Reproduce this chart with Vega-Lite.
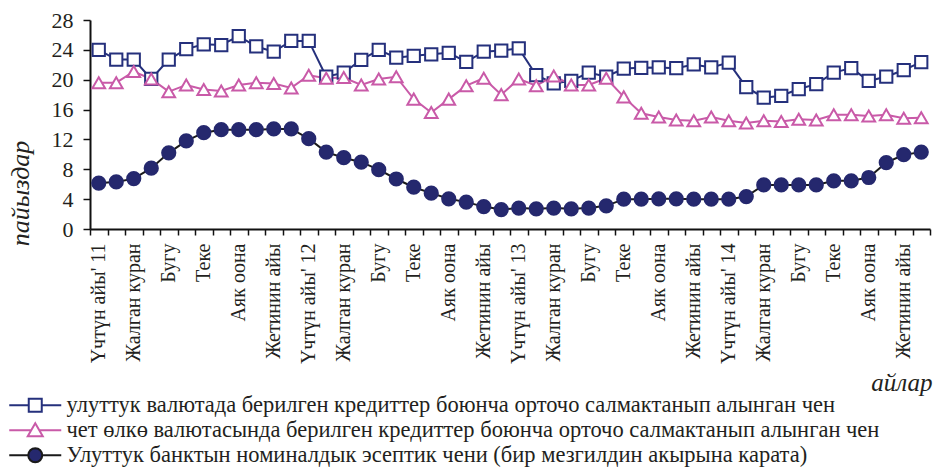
{
  "$schema": "https://vega.github.io/schema/vega-lite/v6.json",
  "width": 840,
  "height": 209,
  "autosize": {"type": "none"},
  "padding": {"left": 90, "top": 20, "right": 3, "bottom": 242},
  "background": "white",
  "config": {
    "font": "Liberation Serif",
    "view": {"stroke": null},
    "axis": {"domainColor": "#111111", "domainWidth": 2, "tickColor": "#111111", "tickWidth": 1.5, "labelColor": "#231f20", "titleColor": "#231f20", "labelFont": "Liberation Serif", "titleFont": "Liberation Serif"}
  },
  "data": {
    "values": [
      {"d": "2011-01", "n": 24.0, "f": 19.6, "r": 6.15},
      {"d": "2011-02", "n": 22.7, "f": 19.6, "r": 6.3},
      {"d": "2011-03", "n": 22.7, "f": 21.1, "r": 6.75},
      {"d": "2011-04", "n": 20.1, "f": 20.1, "r": 8.15},
      {"d": "2011-05", "n": 22.7, "f": 18.4, "r": 10.2},
      {"d": "2011-06", "n": 24.1, "f": 19.3, "r": 11.8},
      {"d": "2011-07", "n": 24.75, "f": 18.7, "r": 12.9},
      {"d": "2011-08", "n": 24.65, "f": 18.5, "r": 13.3},
      {"d": "2011-09", "n": 25.85, "f": 19.3, "r": 13.3},
      {"d": "2011-10", "n": 24.45, "f": 19.6, "r": 13.3},
      {"d": "2011-11", "n": 23.75, "f": 19.5, "r": 13.4},
      {"d": "2011-12", "n": 25.2, "f": 18.9, "r": 13.4},
      {"d": "2012-01", "n": 25.2, "f": 20.6, "r": 12.1},
      {"d": "2012-02", "n": 20.4, "f": 20.2, "r": 10.3},
      {"d": "2012-03", "n": 20.95, "f": 20.3, "r": 9.55},
      {"d": "2012-04", "n": 22.65, "f": 19.3, "r": 8.95},
      {"d": "2012-05", "n": 24.0, "f": 20.1, "r": 7.95},
      {"d": "2012-06", "n": 22.95, "f": 20.4, "r": 6.7},
      {"d": "2012-07", "n": 23.2, "f": 17.4, "r": 5.6},
      {"d": "2012-08", "n": 23.4, "f": 15.6, "r": 4.8},
      {"d": "2012-09", "n": 23.6, "f": 17.4, "r": 4.05},
      {"d": "2012-10", "n": 22.4, "f": 19.2, "r": 3.6},
      {"d": "2012-11", "n": 23.75, "f": 20.2, "r": 3.0},
      {"d": "2012-12", "n": 23.9, "f": 18.0, "r": 2.6},
      {"d": "2013-01", "n": 24.2, "f": 20.1, "r": 2.8},
      {"d": "2013-02", "n": 20.6, "f": 19.2, "r": 2.7},
      {"d": "2013-03", "n": 19.5, "f": 20.5, "r": 2.8},
      {"d": "2013-04", "n": 19.85, "f": 19.3, "r": 2.7},
      {"d": "2013-05", "n": 20.95, "f": 19.3, "r": 2.8},
      {"d": "2013-06", "n": 20.4, "f": 20.2, "r": 3.1},
      {"d": "2013-07", "n": 21.5, "f": 17.7, "r": 4.0},
      {"d": "2013-08", "n": 21.6, "f": 15.5, "r": 4.0},
      {"d": "2013-09", "n": 21.65, "f": 15.0, "r": 4.05},
      {"d": "2013-10", "n": 21.55, "f": 14.6, "r": 4.05},
      {"d": "2013-11", "n": 22.05, "f": 14.5, "r": 4.0},
      {"d": "2013-12", "n": 21.65, "f": 15.0, "r": 4.0},
      {"d": "2014-01", "n": 22.3, "f": 14.5, "r": 4.0},
      {"d": "2014-02", "n": 19.0, "f": 14.2, "r": 4.35},
      {"d": "2014-03", "n": 17.6, "f": 14.5, "r": 5.9},
      {"d": "2014-04", "n": 17.85, "f": 14.4, "r": 5.9},
      {"d": "2014-05", "n": 18.75, "f": 14.7, "r": 5.9},
      {"d": "2014-06", "n": 19.4, "f": 14.6, "r": 5.9},
      {"d": "2014-07", "n": 20.95, "f": 15.3, "r": 6.45},
      {"d": "2014-08", "n": 21.55, "f": 15.3, "r": 6.45},
      {"d": "2014-09", "n": 19.85, "f": 15.15, "r": 6.9},
      {"d": "2014-10", "n": 20.4, "f": 15.3, "r": 8.9},
      {"d": "2014-11", "n": 21.3, "f": 14.85, "r": 9.95},
      {"d": "2014-12", "n": 22.35, "f": 14.9, "r": 10.3}
    ]
  },
  "transform": [{"fold": ["n", "f", "r"], "as": ["s", "v"]}],
  "encoding": {
    "x": {
      "field": "d", "type": "ordinal",
      "scale": {"type": "band", "paddingInner": 0, "paddingOuter": 0},
      "axis": {
        "labelAngle": -90, "labelFontSize": 20, "labelPadding": 8, "tickSize": 6, "tickBand": "extent",
        "labelOverlap": false, "labelFlush": false,
        "labelExpr": "!isString(datum.value) ? '' : slice(datum.value,5)=='01' ? \"Үчтүн айы' \" + slice(datum.value,2,4) : slice(datum.value,5)=='03' ? 'Жалган куран' : slice(datum.value,5)=='05' ? 'Бугу' : slice(datum.value,5)=='07' ? 'Теке' : slice(datum.value,5)=='09' ? 'Аяк оона' : slice(datum.value,5)=='11' ? 'Жетинин айы' : ''",
        "title": "айлар", "titleFontSize": 25, "titleFontStyle": "italic", "titleFontWeight": "normal",
        "titleAnchor": "end", "titleAlign": "right", "titleBaseline": "alphabetic", "titleX": 842, "titleY": 161
      }
    },
    "y": {
      "field": "v", "type": "quantitative",
      "scale": {"domain": [0, 28], "nice": false},
      "axis": {
        "values": [0, 4, 8, 12, 16, 20, 24, 28], "grid": false, "labelFontSize": 22, "tickSize": 7, "labelPadding": 10,
        "title": "пайыздар", "titleFontSize": 26, "titleFontStyle": "italic", "titleFontWeight": "normal",
        "titleAngle": -90, "titleAlign": "center", "titleBaseline": "alphabetic", "titleX": -62, "titleY": 173
      }
    }
  },
  "layer": [
    {
      "mark": {"type": "line", "strokeWidth": 2},
      "encoding": {
        "color": {"field": "s", "type": "nominal", "scale": {"domain": ["n", "f", "r"], "range": ["#25307c", "#c95aa8", "#1a1a1a"]}, "legend": null}
      }
    },
    {
      "mark": {"type": "point", "strokeWidth": 2, "opacity": 1},
      "encoding": {
        "shape": {"field": "s", "type": "nominal", "scale": {"domain": ["n", "f", "r"], "range": ["square", "triangle-up", "circle"]}, "legend": null},
        "stroke": {"field": "s", "type": "nominal", "scale": {"domain": ["n", "f", "r"], "range": ["#25307c", "#c95aa8", "#25286e"]}, "legend": null},
        "fill": {"field": "s", "type": "nominal", "scale": {"domain": ["n", "f", "r"], "range": ["#ffffff", "#ffffff", "#25286e"]}, "legend": null},
        "size": {"field": "s", "type": "nominal", "scale": {"domain": ["n", "f", "r"], "range": [150, 175, 190]}, "legend": null}
      }
    },
    {
      "mark": {"type": "point", "strokeWidth": 2, "opacity": 0},
      "encoding": {
        "shape": {
          "field": "s", "type": "nominal",
          "scale": {"domain": ["n", "f", "r"], "range": [
            "M-2.6,0H-0.65M0.65,0H2.6M-0.65,-0.65H0.65V0.65H-0.65Z",
            "M-2.6,0H-0.38M0.38,0H2.6M0,-0.7L0.75,0.6H-0.75Z",
            "M-2.6,0H-0.7M0.7,0H2.6M0.7,0L0.647,0.268L0.495,0.495L0.268,0.647L0,0.7L-0.268,0.647L-0.495,0.495L-0.647,0.268L-0.7,0L-0.647,-0.268L-0.495,-0.495L-0.268,-0.647L0,-0.7L0.268,-0.647L0.495,-0.495L0.647,-0.268Z"
          ]},
          "legend": {
            "title": null, "orient": "none", "legendX": -66, "legendY": 374, "padding": 0,
            "symbolSize": 400, "symbolStrokeWidth": 2, "symbolOpacity": 1, "labelFontSize": 22.5, "labelOffset": 20, "rowPadding": 2,
            "labelColor": "#231f20", "labelFont": "Liberation Serif", "labelLimit": 1000,
            "labelExpr": "datum.value == 'n' ? 'улуттук валютада берилген кредиттер боюнча орточо салмактанып алынган чен' : datum.value == 'f' ? 'чет өлкө валютасында берилген кредиттер боюнча орточо салмактанып алынган чен' : 'Улуттук банктын номиналдык эсептик чени (бир мезгилдин акырына карата)'"
          }
        },
        "stroke": {"field": "s", "type": "nominal", "scale": {"domain": ["n", "f", "r"], "range": ["#25307c", "#c95aa8", "#1a1a1a"]}},
        "fill": {"field": "s", "type": "nominal", "scale": {"domain": ["n", "f", "r"], "range": ["#ffffff", "#ffffff", "#25286e"]}}
      }
    }
  ],
  "resolve": {"scale": {"shape": "independent", "stroke": "independent", "fill": "independent", "size": "independent"}}
}
